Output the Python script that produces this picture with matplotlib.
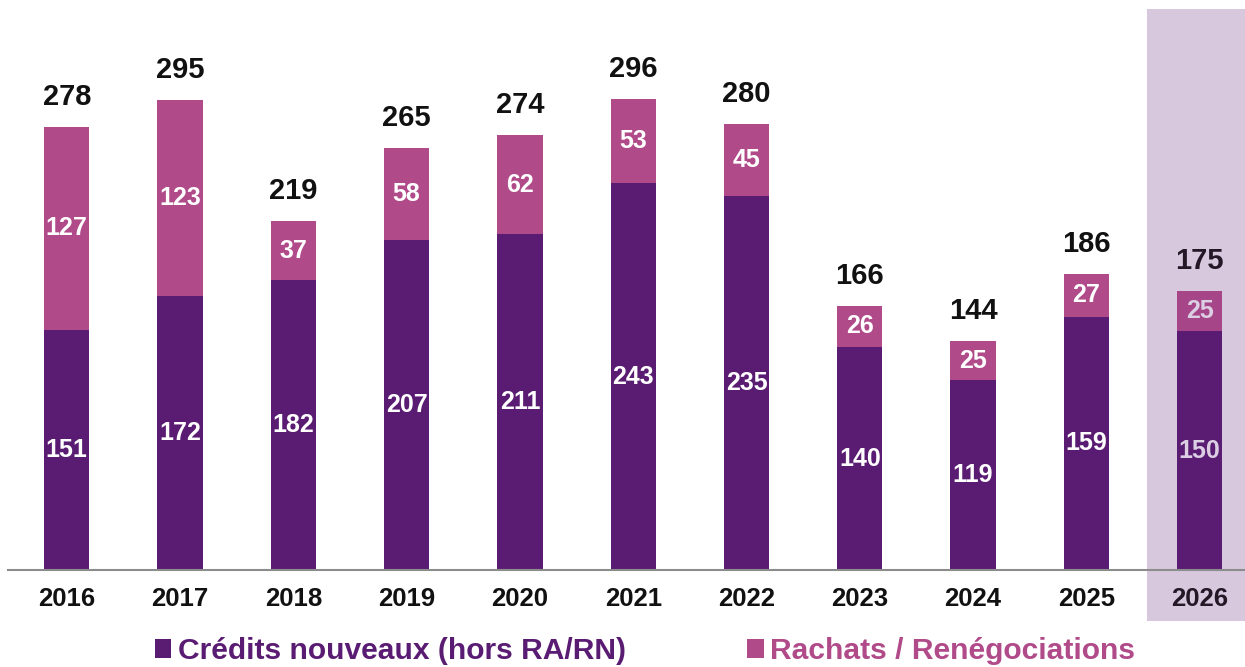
import matplotlib
matplotlib.use("Agg")
import matplotlib.pyplot as plt
from matplotlib.patches import Rectangle, Patch

years = ["2016", "2017", "2018", "2019", "2020", "2021", "2022", "2023", "2024", "2025", "2026"]
credits_nouveaux = [151, 172, 182, 207, 211, 243, 235, 140, 119, 159, 150]
rachats = [127, 123, 37, 58, 62, 53, 45, 26, 25, 27, 25]
totals = [278, 295, 219, 265, 274, 296, 280, 166, 144, 186, 175]
series_names = ["Crédits nouveaux (hors RA/RN)", "Rachats / Renégociations"]

PURPLE = "#5a1c73"
PINK = "#b04a89"
HL = "#d7c8de"
REG = ["Liberation Sans", "DejaVu Sans"]

fig = plt.figure(figsize=(12.45, 6.67), dpi=100)
W, H = 1245, 667
ax = fig.add_axes([8 / W, (H - 570) / H, (W - 8) / W, 570 / H])
scale = 1.5925
ax.set_ylim(0, 570 / scale)
x0, dx = 66.7, 113.3
ax.set_xlim((8 - x0) / dx, (W - x0) / dx)

x = list(range(len(years)))
hl_left = (1147 - x0) / dx
ax.add_patch(Rectangle((hl_left, -(621 - 570) / scale), 20, (621 - 9) / scale,
                       facecolor=HL, edgecolor="none", zorder=0, clip_on=False))

last = len(years) - 1
pink_cols = [PINK] * len(years)
pink_cols[last] = "#a64588"
bw = 0.40
ax.bar(x, credits_nouveaux, width=bw, color=PURPLE, zorder=2)
ax.bar(x, rachats, width=bw, bottom=credits_nouveaux, color=pink_cols, zorder=2)

for i in x:
    inner = "#dccfe3" if i == last else "white"
    outer = "#241827" if i == last else "#111111"
    ax.text(i, credits_nouveaux[i] / 2, str(credits_nouveaux[i]), ha="center", va="center",
            color=inner, fontsize=18, fontweight="bold", family=REG, zorder=3)
    ax.text(i, credits_nouveaux[i] + rachats[i] / 2, str(rachats[i]), ha="center", va="center",
            color=inner, fontsize=18, fontweight="bold", family=REG, zorder=3)
    ax.annotate(str(totals[i]), (i, credits_nouveaux[i] + rachats[i]), xytext=(0, 21.5),
                textcoords="offset points", ha="center", va="center",
                color=outer, fontsize=21, fontweight="bold", family=REG, zorder=3)
    ax.annotate(years[i], (i, 0), xytext=(0, -21), textcoords="offset points",
                ha="center", va="center", color=outer, fontsize=18.5, fontweight="bold",
                family=REG, annotation_clip=False)

for s in ["top", "right", "left"]:
    ax.spines[s].set_visible(False)
ax.spines["bottom"].set_color("#8c8c8c")
ax.spines["bottom"].set_linewidth(1.5)
ax.spines["bottom"].set_zorder(4)
ax.set_xticks([])
ax.set_yticks([])
ax.patch.set_alpha(0)

handles = [Patch(facecolor=PURPLE), Patch(facecolor=PINK)]
fig.legend(handles, series_names, loc="center", bbox_to_anchor=(645 / W, 1 - 651 / H),
           ncol=2, frameon=False, labelcolor=[PURPLE, PINK],
           prop={"family": REG, "weight": "bold", "size": 21.6},
           handlelength=0.55, handleheight=0.62, handletextpad=0.22, columnspacing=4.05,
           borderpad=0, borderaxespad=0)

fig.savefig("out.png", dpi=100)
